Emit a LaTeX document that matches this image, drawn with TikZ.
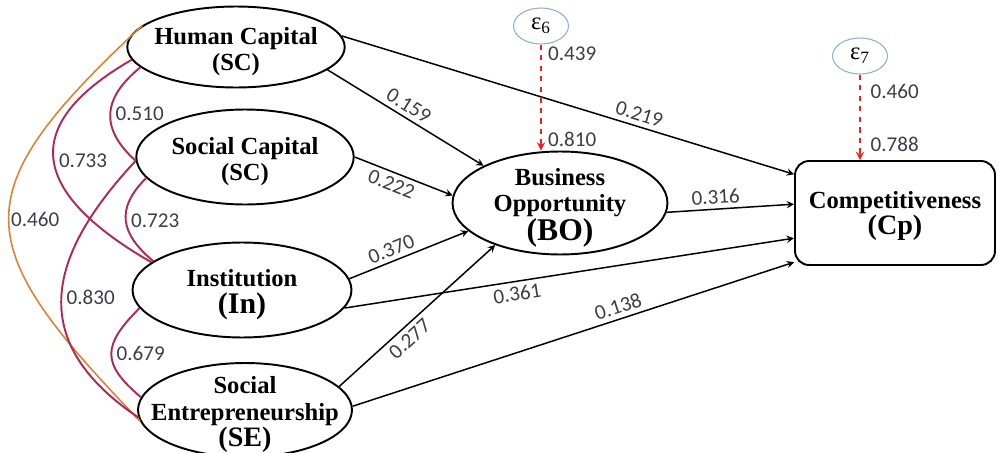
\documentclass[tikz,border=0pt]{standalone}
\usepackage{fontspec}
\setmainfont{Liberation Serif}
\newfontfamily\numfont{Carlito}
\usetikzlibrary{shapes,positioning}
\definecolor{corrred}{RGB}{176,40,88}
\definecolor{corrorange}{RGB}{222,130,50}
\definecolor{errblue}{RGB}{140,175,215}
\definecolor{labgray}{RGB}{60,60,75}
\definecolor{errred}{RGB}{245,30,30}
\newcommand{\topgap}{\rule{0pt}{15pt}}
\begin{document}
\begin{tikzpicture}[x=0.02cm,y=-0.02cm,>=stealth]
  \tikzstyle{latent}=[ellipse,draw=black,line width=1.1pt,inner sep=-15pt,align=center,font=\bfseries\fontsize{14}{15}\selectfont]
  \tikzstyle{disturb}=[ellipse,draw=errblue,line width=0.6pt,inner sep=0pt,minimum width=1.1cm,minimum height=0.72cm,font=\fontsize{14}{16}\selectfont]
  \tikzstyle{effect}=[->,line width=0.85pt]
  \tikzstyle{corr}=[line width=1.1pt,draw=corrred]
  \tikzstyle{coef}=[font=\numfont\fontsize{12}{12}\selectfont,text=labgray,inner sep=2.5pt]
  \tikzstyle{disturbline}=[->,dashed,draw=errred,line width=1.1pt]
  \useasboundingbox (0,0) rectangle (998,453);
  \node[latent,minimum width=4.35cm,minimum height=1.62cm] (hc) at (236,47) {\topgap Human Capital\\(SC)};
  \node[latent,minimum width=4.35cm,minimum height=1.9cm] (sc) at (245,157) {\topgap Social Capital\\(SC)};
  \node[latent,minimum width=4.38cm,minimum height=1.9cm] (in) at (242,290) {\topgap Institution\\{\fontsize{17}{18}\selectfont(In)}};
  \node[latent,minimum width=4.28cm,minimum height=1.88cm] (se) at (245,410) {\topgap Social\\Entrepreneurship\\{\fontsize{16}{17}\selectfont(SE)}};
  \node[latent,minimum width=4.3cm,minimum height=2.06cm] (bo) at (560,203) {\topgap Business\\Opportunity\\{\fontsize{18}{19}\selectfont(BO)}};
  \node[draw,rounded corners=8pt,line width=1.1pt,minimum width=4cm,minimum height=2.08cm,align=center,font=\bfseries\fontsize{14}{15}\selectfont] (cp) at (895,213) {\rule{0pt}{13pt}Competitiveness\\{\fontsize{16}{17}\selectfont(Cp)}};
  \node[disturb] (e6) at (541,26) {ε\textsubscript{6}};
  \node[disturb] (e7) at (860,56) {ε\textsubscript{7}};
  \draw[effect] (hc.-14) -- (bo.154) node[coef,pos=0.48,sloped,above] {0.159};
  \draw[effect] (hc.6) -- (cp.159) node[coef,pos=0.65,sloped,above] {0.219};
  \draw[effect] (sc.east) -- (bo.176) node[coef,pos=0.42,sloped,below] {0.222};
  \draw[effect] (in.6) -- (bo.197) node[coef,pos=0.39,sloped,above] {0.370};
  \draw[effect] (in.-10) -- (cp.194) node[coef,pos=0.38,sloped,below] {0.361};
  \draw[effect] (se.14) -- (bo.213) node[coef,pos=0.4,sloped,below] {0.277};
  \draw[effect] (se.2) -- (cp.206) node[coef,pos=0.61,sloped,above] {0.138};
  \draw[effect] (bo.-5) -- (cp.175) node[coef,pos=0.39,sloped,above] {0.316};
  \draw[disturbline] (e6) -- (e6 |- bo.north) node[coef,pos=0.09,right=1pt] {0.439} node[coef,pos=0.89,right=1pt] {0.810};
  \draw[disturbline] (e7) -- (e7 |- cp.north) node[coef,pos=0.2,right=3pt] {0.460} node[coef,pos=0.82,right=3pt] {0.788};
  \draw[corr,draw=corrorange,line width=0.9pt] (hc.167) to[out=223,in=134,looseness=1.6] node[coef,right,inner sep=1pt] {0.460} (se.186);
  \draw[corr] (hc.187) to[out=210,in=150,looseness=1.7] node[coef,right] {0.733} (in.163);
  \draw[corr] (hc.192) to[out=219,in=138,looseness=1.33] node[coef,right] {0.510} (sc.182);
  \draw[corr] (sc.182) to[out=227,in=146,looseness=1.33] node[coef,right] {0.830} (se.184);
  \draw[corr] (sc.192) to[out=225,in=140,looseness=1.33] node[coef,right] {0.723} (in.162);
  \draw[corr] (in.190) to[out=225,in=140,looseness=1.5] node[coef,right] {0.679} (se.173);
\end{tikzpicture}
\end{document}
